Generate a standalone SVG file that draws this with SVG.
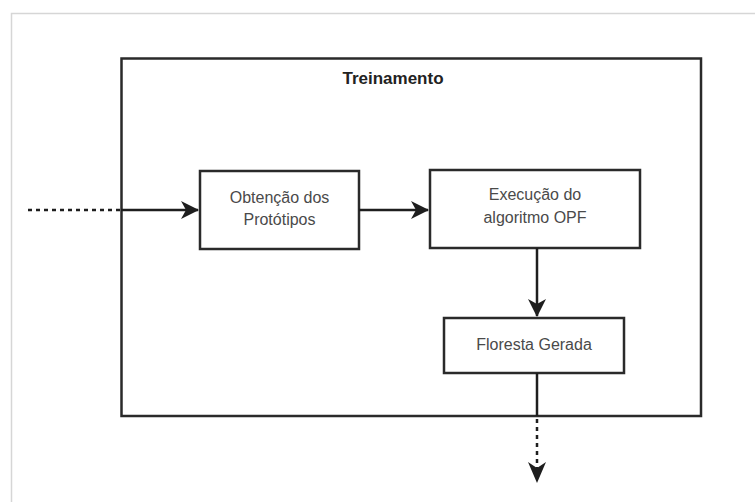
<svg xmlns="http://www.w3.org/2000/svg" width="755" height="502" viewBox="0 0 755 502">
  <style>
    .frame { fill: none; stroke: #d6d6d6; stroke-width: 1.5; }
    .box { fill: #ffffff; stroke: #2a2a2a; stroke-width: 2.5; }
    .label { font-family: "Liberation Sans", Arial, sans-serif; font-size: 16px; fill: #4a4a4a; text-anchor: middle; }
    .title { font-family: "Liberation Sans", Arial, sans-serif; font-size: 17px; font-weight: bold; fill: #222222; text-anchor: middle; }
    .solid { fill: none; stroke: #1e1e1e; stroke-width: 2.5; }
    .dotted { fill: none; stroke: #1e1e1e; stroke-width: 2.5; stroke-dasharray: 4 4; }
  </style>
  <defs>
    <marker id="arrowBig" viewBox="0 0 18 18" refX="17" refY="9" markerWidth="18" markerHeight="18" markerUnits="userSpaceOnUse" orient="auto">
      <path d="M0,0 L18,9 L0,18 L5,9 Z" fill="#1e1e1e"/>
    </marker>
  </defs>

  <rect x="0" y="0" width="755" height="502" fill="#ffffff"/>
  <!-- page frame -->
  <path class="frame" d="M11.5,502 L11.5,13.5 L755,13.5"/>

  <!-- training container -->
  <g id="treinamento">
    <rect class="box" x="121.5" y="58.5" width="579.5" height="357.5" fill="none"/>
    <text class="title" x="393" y="84">Treinamento</text>
  </g>

  <g id="obtencao">
    <rect class="box" x="200" y="171" width="159" height="78"/>
    <text class="label" x="279.5" y="203">Obtenção dos</text>
    <text class="label" x="279.5" y="225">Protótipos</text>
  </g>

  <g id="execucao">
    <rect class="box" x="430" y="170" width="210" height="78"/>
    <text class="label" x="535" y="200">Execução do</text>
    <text class="label" x="535" y="223">algoritmo OPF</text>
  </g>

  <g id="floresta">
    <rect class="box" x="444" y="318" width="180" height="55"/>
    <text class="label" x="534" y="350">Floresta Gerada</text>
  </g>

  <g id="connectors">
    <path class="dotted" d="M28,210 L121,210"/>
    <path class="solid" d="M121,210 L198,210" marker-end="url(#arrowBig)"/>
    <path class="solid" d="M359,210 L428,210" marker-end="url(#arrowBig)"/>
    <path class="solid" d="M537,248 L537,316" marker-end="url(#arrowBig)"/>
    <path class="solid" d="M537,373 L537,416"/>
    <path class="dotted" d="M537,419 L537,468"/>
    <path d="M528,462 L537,483 L546,462 L537,468 Z" fill="#1e1e1e"/>
  </g>
</svg>
